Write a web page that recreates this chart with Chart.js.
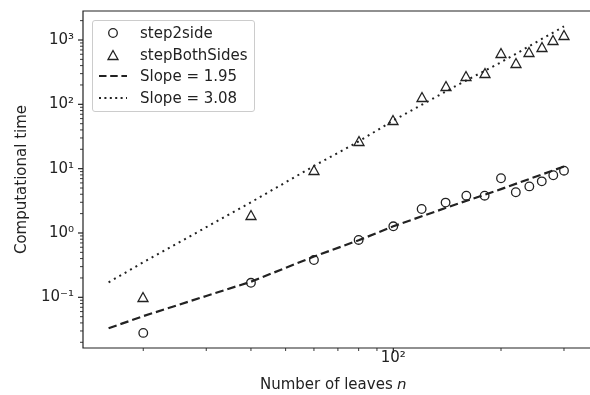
<!DOCTYPE html>
<html>
<head>
<meta charset="utf-8">
<script src="https://cdn.jsdelivr.net/npm/chart.js@4/dist/chart.umd.min.js"></script>
<style>
  html, body { margin: 0; padding: 0; background: #fff; overflow: hidden; }
  #wrap { position: relative; width: 590px; height: 395px; overflow: hidden; }
  #chart { display: block; }
  .legend {
    position: absolute; left: 91.5px; top: 19.5px; width: 163px; height: 92px;
    box-sizing: border-box; border: 1px solid #cccccc; border-radius: 3px;
    background: rgba(255, 255, 255, 0.8);
    font: 15px "DejaVu Sans", sans-serif; color: #222;
  }
  .row { position: absolute; left: 0; width: 100%; height: 18px; }
  .row svg { position: absolute; left: 5px; top: 0; }
  .row span { position: absolute; left: 47.5px; top: 0; line-height: 18px; white-space: nowrap; }
</style>
</head>
<body>
<div id="wrap">
  <canvas id="chart" width="590" height="395"></canvas>
  <div class="legend">
    <div class="row" style="top:3.8px">
      <svg width="30" height="18"><circle cx="15" cy="9" r="4.3" fill="none" stroke="#222" stroke-width="1.3"/></svg>
      <span>step2side</span>
    </div>
    <div class="row" style="top:25.2px">
      <svg width="30" height="18"><polygon points="15,4.5 10,13.5 20,13.5" fill="none" stroke="#222" stroke-width="1.3" stroke-linejoin="miter"/></svg>
      <span>stepBothSides</span>
    </div>
    <div class="row" style="top:46.6px">
      <svg width="30" height="18"><line x1="1" y1="9" x2="29" y2="9" stroke="#222" stroke-width="2.2" stroke-dasharray="7.5 3.7"/></svg>
      <span>Slope = 1.95</span>
    </div>
    <div class="row" style="top:68px">
      <svg width="30" height="18"><line x1="1" y1="9" x2="29" y2="9" stroke="#222" stroke-width="2" stroke-dasharray="2 3.4"/></svg>
      <span>Slope = 3.08</span>
    </div>
  </div>
</div>
<script>
/* log-log: hesaplama süresi / yaprak sayısı, iki yöntem ve eğim doğruları */

const INK = "#222222";

const N_LEAVES = [20, 40, 60, 80, 100, 120, 140, 160, 180, 200, 220, 240, 260, 280, 300];
const STEP_2SIDE = [0.028, 0.168, 0.38, 0.78, 1.27, 2.36, 2.97, 3.8, 3.8, 7.1, 4.3, 5.3, 6.35, 7.9, 9.3];
const STEP_BOTH = [0.1, 1.93, 9.4, 26.5, 58, 128, 195, 272, 308, 630, 440, 645, 780, 985, 1180];

// eğim doğruları resimden okunan noktalar
const FIT_N = [16, 20, 30, 40, 60, 80, 100, 150, 200, 300];
const FIT_2SIDE = [0.033, 0.051, 0.105, 0.175, 0.43, 0.77, 1.27, 2.8, 4.8, 10.8];
const FIT_BOTH = [0.171, 0.35, 1.23, 3.0, 11, 26.5, 56, 195, 450, 1630];

const X_RANGE = [13.57, 342.1];
const Y_RANGE = [0.0163, 2823];

const SUP = { "-": "⁻", "0": "⁰", "1": "¹", "2": "²", "3": "³", "4": "⁴", "5": "⁵", "6": "⁶", "7": "⁷", "8": "⁸", "9": "⁹" };

function isPow10(v) {
  const l = Math.log10(v);
  return Math.abs(l - Math.round(l)) < 1e-9;
}

function powLabel(v) {
  const e = String(Math.round(Math.log10(v)));
  return "10" + e.split("").map((c) => SUP[c]).join("");
}

/** 1..9 × 10^k tikleri — matplotlib gibi */
function logTicks(min, max) {
  const out = [];
  for (let e = Math.floor(Math.log10(min)); e <= Math.ceil(Math.log10(max)); e++) {
    for (let m = 1; m < 10; m++) {
      const v = Number((m * Math.pow(10, e)).toPrecision(3));
      if (v >= min && v <= max) out.push({ value: v, major: m === 1 });
    }
  }
  return out;
}

function makeTriangle() {
  const c = document.createElement("canvas");
  c.width = 14; c.height = 14;
  const g = c.getContext("2d");
  g.strokeStyle = INK;
  g.lineWidth = 1.3;
  g.beginPath();
  g.moveTo(7, 2.5);
  g.lineTo(2, 11.5);
  g.lineTo(12, 11.5);
  g.closePath();
  g.stroke();
  return c;
}

const toXY = (xs, ys) => xs.map((x, i) => ({ x, y: ys[i] }));

/** Etiket taşma payını sıfırla — çizim alanını yalnızca layout.padding belirlesin */
function fixBox(size, key) {
  return (scale) => {
    scale[key] = size;
    scale.paddingTop = scale.paddingBottom = scale.paddingLeft = scale.paddingRight = 0;
  };
}

/** Üçgen imge işaretçileri bulanıklaşmasın */
const crispMarkers = {
  id: "crispMarkers",
  beforeDatasetsDraw(chart) { chart.ctx.imageSmoothingEnabled = false; },
  afterDatasetsDraw(chart) { chart.ctx.imageSmoothingEnabled = true; },
};

const frameAndTicks = {
  id: "frameAndTicks",
  afterDraw(chart) {
    const { ctx, chartArea: a, scales } = chart;
    ctx.save();
    ctx.strokeStyle = INK;
    for (const t of scales.x.ticks) {
      const px = scales.x.getPixelForValue(t.value);
      ctx.lineWidth = t.major ? 1.2 : 0.9;
      ctx.beginPath();
      ctx.moveTo(px, a.bottom);
      ctx.lineTo(px, a.bottom + (t.major ? 5 : 3));
      ctx.stroke();
    }
    for (const t of scales.y.ticks) {
      const py = scales.y.getPixelForValue(t.value);
      ctx.lineWidth = t.major ? 1.2 : 0.9;
      ctx.beginPath();
      ctx.moveTo(a.left, py);
      ctx.lineTo(a.left - (t.major ? 5 : 3), py);
      ctx.stroke();
    }
    // sağ kenar resmin dışında kalıyor: üst ve alt çizgi tuval kenarına kadar
    ctx.lineWidth = 1.2;
    ctx.beginPath();
    ctx.moveTo(chart.width, a.top);
    ctx.lineTo(a.left, a.top);
    ctx.lineTo(a.left, a.bottom);
    ctx.lineTo(chart.width, a.bottom);
    ctx.stroke();
    ctx.restore();
  },
};

const font = { family: '"DejaVu Sans", sans-serif', size: 15 };

new Chart(document.getElementById("chart"), {
  type: "line",
  data: {
    datasets: [
      {
        label: "step2side",
        data: toXY(N_LEAVES, STEP_2SIDE),
        showLine: false,
        pointStyle: "circle",
        pointRadius: 4.3,
        pointBorderWidth: 1.3,
        pointBorderColor: INK,
        pointBackgroundColor: "rgba(0,0,0,0)",
        order: 1,
      },
      {
        label: "stepBothSides",
        data: toXY(N_LEAVES, STEP_BOTH),
        showLine: false,
        pointStyle: makeTriangle(),
        order: 1,
      },
      {
        label: "Slope = 1.95",
        data: toXY(FIT_N, FIT_2SIDE),
        borderColor: INK,
        borderWidth: 2.2,
        borderDash: [8.5, 4],
        borderCapStyle: "butt",
        pointRadius: 0,
        tension: 0,
        fill: false,
        order: 2,
      },
      {
        label: "Slope = 3.08",
        data: toXY(FIT_N, FIT_BOTH),
        borderColor: INK,
        borderWidth: 2,
        borderDash: [2, 4.2],
        borderCapStyle: "butt",
        pointRadius: 0,
        tension: 0,
        fill: false,
        order: 2,
      },
    ],
  },
  options: {
    responsive: false,
    animation: false,
    layout: { padding: { top: 11, right: 2, left: 0, bottom: 0 } },
    plugins: { legend: { display: false }, tooltip: { enabled: false } },
    scales: {
      x: {
        type: "logarithmic",
        min: X_RANGE[0],
        max: X_RANGE[1],
        bounds: "data",
        afterBuildTicks: (scale) => { scale.ticks = logTicks(X_RANGE[0], X_RANGE[1]); },
        afterFit: fixBox(47, "height"),
        grid: { display: false, drawTicks: false },
        border: { display: false },
        ticks: {
          autoSkip: false,
          maxRotation: 0,
          padding: 1,
          color: INK,
          font,
          callback: (v) => (isPow10(v) ? powLabel(v) : ""),
        },
        title: {
          display: true,
          text: "Number of leaves 𝘯",
          color: INK,
          font,
          padding: { top: 0, bottom: 1 },
        },
      },
      y: {
        type: "logarithmic",
        min: Y_RANGE[0],
        max: Y_RANGE[1],
        bounds: "data",
        afterBuildTicks: (scale) => { scale.ticks = logTicks(Y_RANGE[0], Y_RANGE[1]); },
        afterFit: fixBox(83, "width"),
        grid: { display: false, drawTicks: false },
        border: { display: false },
        ticks: {
          autoSkip: false,
          padding: 9,
          color: INK,
          font,
          callback: (v) => (isPow10(v) ? powLabel(v) : ""),
        },
        title: {
          display: true,
          text: "Computational time",
          color: INK,
          font,
          padding: { top: 13, bottom: 0 },
        },
      },
    },
  },
  plugins: [crispMarkers, frameAndTicks],
});
</script>
</body>
</html>
